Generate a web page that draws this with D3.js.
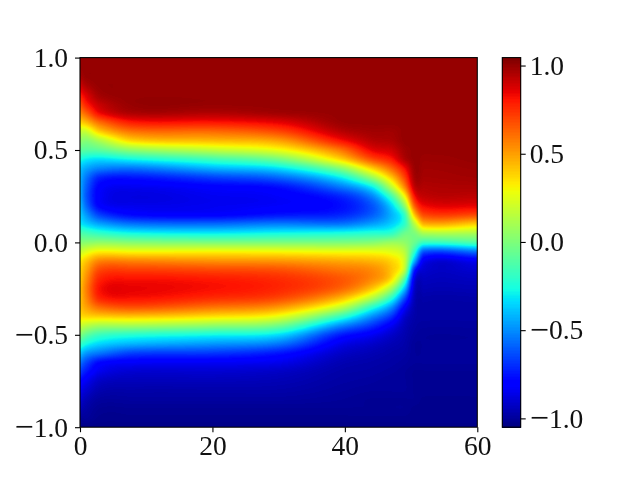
<!DOCTYPE html>
<html>
<head>
<meta charset="utf-8">
<script src="https://cdn.jsdelivr.net/npm/d3@7"></script>
<style>
html,body{margin:0;padding:0;background:#fff;overflow:hidden}
#wrap{position:relative;width:640px;height:480px}
canvas,svg{position:absolute;left:0;top:0}
text{font-family:"Liberation Serif",serif;fill:#111}
</style>
</head>
<body>
<div id="wrap"><canvas id="heat" width="640" height="480"></canvas><svg id="chart" width="640" height="480"></svg></div>
<script>
const times = [0, 1, 3, 8, 20, 30, 39, 44, 47, 49, 50.5, 52, 60];
// one column of values per time; rows run from y = 1 down to y = -1 in steps of 0.05
const u0 = [1,1,.97,.9,.8,.68,.55,.38,.18,.05,-.08,-.25,-.38,-.42,-.43,-.43,-.4,-.36,-.3,-.12,.02,.18,.33,.38,.4,.42,.42,.42,.36,.2,.02,-.18,-.38,-.55,-.67,-.78,-.85,-.9,-.95,-1,-1.03];
const u1 = [1,1,1,.96,.88,.8,.65,.45,.2,.02,-.1,-.3,-.45,-.55,-.6,-.62,-.58,-.48,-.36,-.15,.03,.25,.42,.5,.55,.58,.56,.5,.38,.15,-.08,-.27,-.48,-.65,-.75,-.84,-.9,-.95,-.98,-1,-1.03];
const u3 = [1,1,1,1,.98,.92,.84,.62,.4,.12,-.08,-.33,-.52,-.72,-.8,-.82,-.8,-.66,-.45,-.2,.05,.32,.56,.7,.78,.82,.78,.62,.4,.1,-.17,-.35,-.55,-.78,-.85,-.92,-.96,-.99,-1.01,-1.02,-1.03];
const u8 = [1,1,1,1,1,1,.96,.8,.6,.38,.05,-.27,-.55,-.75,-.84,-.87,-.85,-.78,-.55,-.27,.02,.3,.56,.72,.82,.85,.82,.68,.42,.1,-.22,-.42,-.66,-.82,-.9,-.94,-.97,-.99,-1.01,-1.02,-1.03];
const u20 = [1,1,1,1,1,1,.95,.81,.62,.44,.17,-.15,-.42,-.66,-.8,-.84,-.84,-.8,-.57,-.3,0,.31,.53,.7,.8,.82,.76,.6,.36,.05,-.27,-.48,-.68,-.83,-.9,-.94,-.97,-.99,-1.01,-1.02,-1.03];
const u30 = [1,1,1,1,1,1,.98,.86,.7,.5,.28,-.02,-.33,-.58,-.76,-.82,-.82,-.75,-.53,-.27,0,.3,.52,.68,.76,.77,.7,.52,.27,-.03,-.33,-.55,-.75,-.85,-.92,-.95,-.97,-.99,-1.01,-1.02,-1.03];
const u39 = [1,1,1,1,1,1,1,.99,.93,.8,.58,.36,0,-.32,-.55,-.72,-.77,-.72,-.55,-.25,0,.28,.48,.6,.67,.64,.47,.2,-.15,-.48,-.72,-.84,-.91,-.95,-.97,-.98,-.99,-1,-1.01,-1.02,-1.03];
const u44 = [1,1,1,1,1,1,1,1,.98,.94,.85,.68,.38,.05,-.3,-.52,-.62,-.6,-.46,-.22,.02,.28,.45,.55,.55,.42,.15,-.2,-.48,-.68,-.83,-.91,-.95,-.97,-.98,-.99,-1,-1.01,-1.01,-1.02,-1.03];
const u47 = [1,1,1,1,1,1,1,1,.98,.96,.9,.8,.62,.4,.15,-.15,-.35,-.42,-.36,-.2,.07,.25,.38,.42,.36,.1,-.2,-.48,-.68,-.83,-.91,-.95,-.97,-.98,-.99,-1,-1,-1.01,-1.01,-1.02,-1.03];
const u49 = [1,1,1,1,1,1,1,1,1,1,.98,.95,.82,.7,.55,.3,.05,-.18,-.2,-.05,.05,.15,.2,.15,-.12,-.38,-.62,-.8,-.9,-.94,-.96,-.97,-.98,-.99,-1,-1,-1,-1.01,-1.01,-1.02,-1.03];
const u50 = [1,1,1,1,1,1,1,1,1,1,1,1,.99,.97,.92,.81,.65,.42,.15,0,-.05,-.2,-.42,-.72,-.86,-.91,-.94,-.96,-.97,-.98,-.99,-1,-1,-1,-1.01,-1.01,-1.01,-1.01,-1.02,-1.02,-1.03];
const u52 = [1,1,1,1,1,1,1,1,1,1,1,.99,.98,.97,.95,.92,.84,.7,.46,.12,-.18,-.62,-.84,-.9,-.93,-.95,-.97,-.98,-.98,-.99,-1,-1,-1,-1,-1.01,-1.01,-1.01,-1.02,-1.02,-1.02,-1.03];
const u60 = [1,1,1,1,1,1,1,1,1,1,1,1,.99,.98,.96,.93,.86,.7,.4,.12,-.12,-.55,-.83,-.9,-.93,-.95,-.97,-.98,-.98,-.99,-1,-1,-1,-1,-1.01,-1.01,-1.01,-1.02,-1.02,-1.02,-1.03];
const columns = [u0, u1, u3, u8, u20, u30, u39, u44, u47, u49, u50, u52, u60];
const xTicks = [0, 20, 40, 60];
const yTicks = [-1, -0.5, 0, 0.5, 1];
const cTicks = [-1, -0.5, 0, 0.5, 1];
const colorDomain = [-1.05, 1.045];

const x = d3.scaleLinear().domain([0, 60]).range([80, 477.3]);
const y = d3.scaleLinear().domain([-1, 1]).range([427.2, 57.6]);
const cy = d3.scaleLinear().domain(colorDomain).range([427.2, 57.6]);
const cLeft = 502.3, cRight = 520.7;

// jet colour map
const rS = d3.scaleLinear().domain([0, .35, .66, .89, 1]).range([0, 0, 1, 1, .5]).clamp(true);
const gS = d3.scaleLinear().domain([0, .125, .375, .64, .91, 1]).range([0, 0, 1, 1, 0, 0]).clamp(true);
const bS = d3.scaleLinear().domain([0, .11, .34, .65, 1]).range([.5, 1, 1, 0, 0]).clamp(true);
const norm = d3.scaleQuantize().domain(colorDomain).range(d3.range(256).map(i => i / 255));
const jet = v => {
  const n = norm(v);
  return [rS(n) * 255, gS(n) * 255, bS(n) * 255];
};

// smooth read-out of one column at a given y position
function columnAt(col, yv) {
  const p = (1 - yv) / 0.05;
  const i = Math.max(0, Math.min(col.length - 2, Math.floor(p)));
  const f = p - i;
  const a = col[Math.max(0, i - 1)], b = col[i], c = col[i + 1], d = col[Math.min(col.length - 1, i + 2)];
  return b + 0.5 * f * (c - a + f * (2 * a - 5 * b + 4 * c - d + f * (3 * (b - c) + d - a)));
}
// smooth read-out across the columns (cubic Hermite over the uneven time steps)
function field(tv, yv) {
  const n = times.length;
  const j = Math.max(0, Math.min(n - 2, d3.bisectRight(times, tv) - 1));
  const t0 = times[j], t1 = times[j + 1], h = t1 - t0;
  const jm = Math.max(0, j - 1), jp = Math.min(n - 1, j + 2);
  const vm = columnAt(columns[jm], yv), v0 = columnAt(columns[j], yv);
  const v1 = columnAt(columns[j + 1], yv), vp = columnAt(columns[jp], yv);
  const m0 = (v1 - vm) / (t1 - times[jm]);
  const m1 = (vp - v0) / (times[jp] - t0);
  const s = (tv - t0) / h, s2 = s * s, s3 = s2 * s;
  return (2 * s3 - 3 * s2 + 1) * v0 + (s3 - 2 * s2 + s) * h * m0 + (-2 * s3 + 3 * s2) * v1 + (s3 - s2) * h * m1;
}

const ctx = document.getElementById("heat").getContext("2d");
const x0 = Math.round(x.range()[0]), x1 = Math.round(x.range()[1]);
const y0 = Math.round(y.range()[1]), y1 = Math.round(y.range()[0]);
const img = ctx.createImageData(x1 - x0, y1 - y0);
for (let py = y0; py < y1; py++) {
  for (let px = x0; px < x1; px++) {
    const [r, g, b] = jet(field(Math.max(0, x.invert(px + .5)), y.invert(py + .5)));
    const k = ((py - y0) * (x1 - x0) + (px - x0)) * 4;
    img.data[k] = r; img.data[k + 1] = g; img.data[k + 2] = b; img.data[k + 3] = 255;
  }
}
ctx.putImageData(img, x0, y0);

const svg = d3.select("#chart");
const fmtNum = d => (d < 0 ? "\u2212" : "") + Math.abs(d).toFixed(1);

function styleAxis(g) {
  g.select(".domain").remove();
  g.selectAll(".tick line").attr("stroke", "#000").attr("stroke-width", 1.1);
  g.selectAll(".tick text").attr("font-size", 27.5).attr("fill", "#111").style("font-family", '"Liberation Serif",serif')
    .each(function () {
      const label = d3.select(this), s = label.text();
      if (s[0] !== "\u2212") return;
      label.text(null).attr("dy", null);
      label.append("tspan").attr("font-size", 34).attr("dy", 10.4).text(s[0]);
      label.append("tspan").attr("dy", -1.6).text(s.slice(1));
    });
}

svg.append("g").attr("transform", `translate(0,${y.range()[0]})`)
  .call(d3.axisBottom(x).tickValues(xTicks).tickSize(5).tickPadding(3).tickFormat(d3.format("d")))
  .call(styleAxis);
svg.append("g").attr("transform", `translate(${x.range()[0]},0)`)
  .call(d3.axisLeft(y).tickValues(yTicks).tickSize(5).tickPadding(7).tickFormat(fmtNum))
  .call(styleAxis);
svg.append("rect").attr("x", x.range()[0]).attr("y", y.range()[1])
  .attr("width", x.range()[1] - x.range()[0]).attr("height", y.range()[0] - y.range()[1])
  .attr("fill", "none").attr("stroke", "#000").attr("stroke-width", 1.1);

// colour bar
const levels = d3.range(256);
const levelY = d3.scaleLinear().domain([0, 256]).range(cy.range());
svg.append("g").attr("shape-rendering", "crispEdges").selectAll("rect").data(levels).join("rect")
  .attr("x", cLeft).attr("width", cRight - cLeft)
  .attr("y", d => levelY(d + 1)).attr("height", d => levelY(d) - levelY(d + 1) + .6)
  .attr("fill", d => {
    const v = colorDomain[0] + (d + .5) / 256 * (colorDomain[1] - colorDomain[0]);
    const [r, g, b] = jet(v);
    return d3.rgb(r, g, b).formatHex();
  });
svg.append("g").attr("transform", `translate(${cRight},0)`)
  .call(d3.axisRight(cy).tickValues(cTicks).tickSize(5).tickPadding(4).tickFormat(fmtNum))
  .call(styleAxis);
svg.append("rect").attr("x", cLeft).attr("y", cy.range()[1])
  .attr("width", cRight - cLeft).attr("height", cy.range()[0] - cy.range()[1])
  .attr("fill", "none").attr("stroke", "#000").attr("stroke-width", 1.1);
</script>
</body>
</html>
